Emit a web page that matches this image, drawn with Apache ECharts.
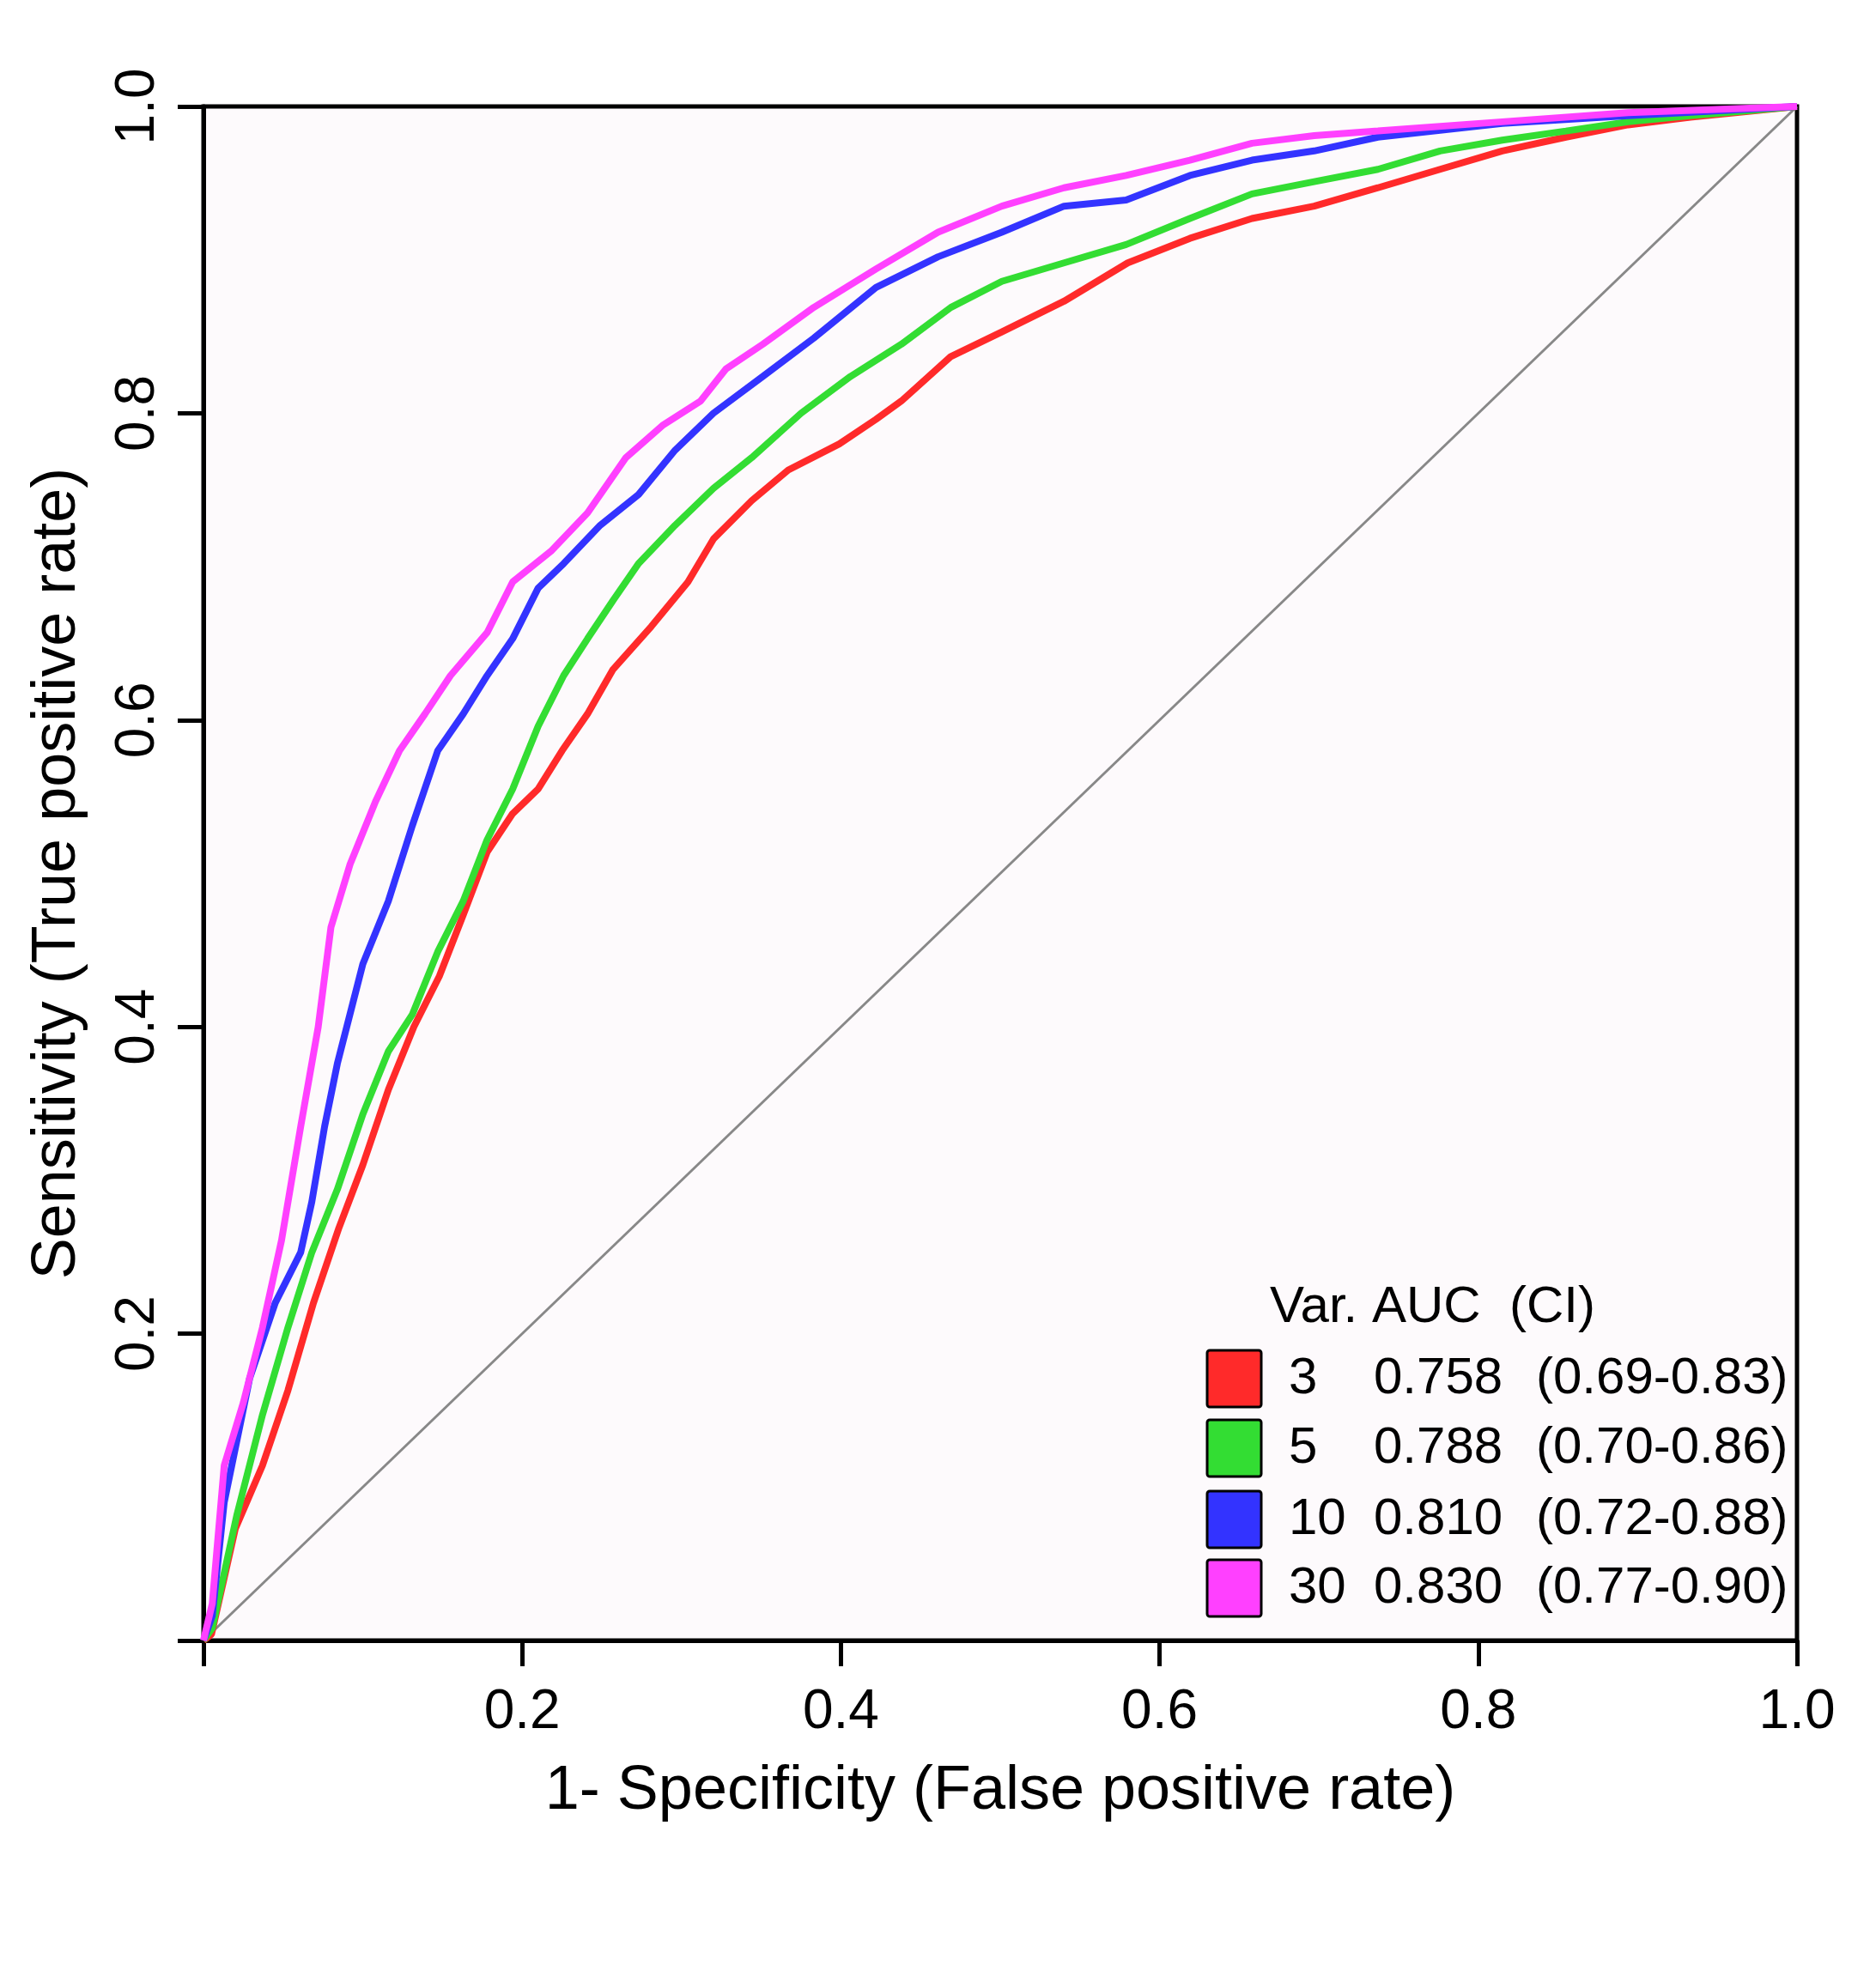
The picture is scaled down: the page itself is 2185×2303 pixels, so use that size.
<!DOCTYPE html>
<html>
<head>
<meta charset="utf-8">
<script src="https://cdn.jsdelivr.net/npm/echarts@6/dist/echarts.min.js"></script>
<style>
  html, body { margin: 0; padding: 0; background: #fff; }
  #chart { width: 2185px; height: 2303px; }
</style>
</head>
<body>
<div id="chart"></div>
<script>
'use strict';

// ROC curves: [1 - specificity, sensitivity]
const roc3 = [[0, 0], [0.005, 0.004], [0.02, 0.073], [0.037, 0.114], [0.053, 0.163], [0.069, 0.22], [0.085, 0.269], [0.1, 0.31], [0.116, 0.359], [0.132, 0.4], [0.148, 0.433], [0.163, 0.473], [0.178, 0.514], [0.194, 0.539], [0.21, 0.555], [0.225, 0.58], [0.241, 0.604], [0.257, 0.633], [0.281, 0.661], [0.304, 0.69], [0.32, 0.718], [0.344, 0.743], [0.367, 0.763], [0.399, 0.78], [0.422, 0.796], [0.438, 0.808], [0.469, 0.837], [0.501, 0.853], [0.54, 0.873], [0.58, 0.898], [0.619, 0.914], [0.658, 0.927], [0.697, 0.935], [0.737, 0.947], [0.776, 0.959], [0.815, 0.971], [0.855, 0.98], [0.894, 0.988], [0.933, 0.993], [0.972, 0.997], [1, 1]];
const roc5 = [[0, 0], [0.0055, 0.008], [0.021, 0.082], [0.037, 0.147], [0.053, 0.204], [0.068, 0.253], [0.084, 0.294], [0.1, 0.343], [0.116, 0.384], [0.131, 0.408], [0.147, 0.449], [0.163, 0.482], [0.178, 0.522], [0.194, 0.555], [0.21, 0.596], [0.226, 0.629], [0.241, 0.653], [0.257, 0.678], [0.273, 0.702], [0.296, 0.727], [0.32, 0.751], [0.344, 0.771], [0.375, 0.8], [0.406, 0.824], [0.438, 0.845], [0.469, 0.869], [0.501, 0.886], [0.54, 0.898], [0.579, 0.91], [0.619, 0.927], [0.658, 0.943], [0.697, 0.951], [0.737, 0.959], [0.776, 0.971], [0.815, 0.978], [0.855, 0.984], [0.894, 0.99], [0.933, 0.994], [1, 1]];
const roc10 = [[0, 0], [0.0055, 0.016], [0.013, 0.09], [0.029, 0.171], [0.045, 0.22], [0.061, 0.253], [0.068, 0.286], [0.076, 0.335], [0.084, 0.376], [0.1, 0.441], [0.116, 0.482], [0.131, 0.531], [0.147, 0.58], [0.163, 0.604], [0.178, 0.629], [0.194, 0.653], [0.21, 0.686], [0.226, 0.702], [0.249, 0.727], [0.273, 0.747], [0.296, 0.776], [0.32, 0.8], [0.351, 0.824], [0.383, 0.849], [0.422, 0.882], [0.461, 0.902], [0.501, 0.918], [0.54, 0.935], [0.579, 0.939], [0.619, 0.955], [0.658, 0.965], [0.697, 0.971], [0.737, 0.98], [0.815, 0.989], [0.894, 0.994], [1, 1]];
const roc30 = [[0, 0], [0.0055, 0.024], [0.013, 0.114], [0.025, 0.155], [0.037, 0.204], [0.049, 0.261], [0.061, 0.335], [0.072, 0.4], [0.08, 0.465], [0.092, 0.506], [0.108, 0.547], [0.123, 0.58], [0.139, 0.604], [0.155, 0.629], [0.178, 0.657], [0.194, 0.69], [0.218, 0.71], [0.241, 0.735], [0.265, 0.771], [0.288, 0.792], [0.312, 0.808], [0.328, 0.829], [0.351, 0.845], [0.383, 0.869], [0.422, 0.894], [0.461, 0.918], [0.501, 0.935], [0.54, 0.947], [0.579, 0.955], [0.619, 0.965], [0.658, 0.976], [0.697, 0.981], [0.737, 0.984], [0.815, 0.99], [0.894, 0.996], [1, 1]];
const diagonal = [[0, 0], [1, 1]];

const curveNames = ['3', '5', '10', '30'];
const curveColors = ['#ff2a2a', '#33dd33', '#3333ff', '#ff40ff'];
const aucValues = ['0.758', '0.788', '0.810', '0.830'];
const ciValues = ['(0.69-0.83)', '(0.70-0.86)', '(0.72-0.88)', '(0.77-0.90)'];
const tickValues = [0.2, 0.4, 0.6, 0.8, 1.0];

const FONT = '"Liberation Sans", Arial, sans-serif';
const chart = echarts.init(document.getElementById('chart'));

const curves = [roc3, roc5, roc10, roc30];

const series = [{
  type: 'line',
  data: diagonal,
  symbol: 'none',
  lineStyle: { color: '#888', width: 3 },
  silent: true,
}].concat(curves.map((c, i) => ({
  type: 'line',
  name: curveNames[i],
  data: c,
  symbol: 'none',
  lineStyle: { color: curveColors[i], width: 8 },
})));

// legend drawn as a small table
const legend = [{
  type: 'text', x: 1479, y: 1523,
  style: { text: 'Var. AUC  (CI)', font: '60px ' + FONT, fill: '#000', verticalAlign: 'middle' },
}];
const rowY = [1606, 1687, 1770, 1850];
curveNames.forEach((n, i) => {
  legend.push({
    type: 'rect', shape: { x: 1406, y: rowY[i] - 33, width: 63, height: 66, r: 3 },
    style: { fill: curveColors[i], stroke: '#000', lineWidth: 3 },
  });
  legend.push({ type: 'text', x: 1501, y: rowY[i], style: { text: n, font: '60px ' + FONT, fill: '#000', verticalAlign: 'middle' } });
  legend.push({ type: 'text', x: 1600, y: rowY[i], style: { text: aucValues[i], font: '60px ' + FONT, fill: '#000', verticalAlign: 'middle' } });
  legend.push({ type: 'text', x: 1789, y: rowY[i], style: { text: ciValues[i], font: '60px ' + FONT, fill: '#000', verticalAlign: 'middle' } });
});

const labelFmt = v => tickValues.some(t => Math.abs(t - v) < 1e-6) ? v.toFixed(1) : '';

chart.setOption({
  backgroundColor: '#fff',
  animation: false,
  grid: {
    left: 237, right: 92, top: 124, bottom: 392,
    show: true, backgroundColor: '#fdfafc', borderColor: '#000', borderWidth: 5,
  },
  xAxis: {
    type: 'value', min: 0, max: 1, interval: 0.2,
    name: '1- Specificity (False positive rate)', nameLocation: 'middle', nameGap: 140,
    nameTextStyle: { fontFamily: FONT, fontSize: 72, color: '#000' },
    axisLine: { lineStyle: { color: '#000', width: 5 } },
    axisTick: { length: 30, lineStyle: { color: '#000', width: 5 } },
    axisLabel: { fontFamily: FONT, fontSize: 64, color: '#000', margin: 52, formatter: labelFmt },
    splitLine: { show: false },
  },
  yAxis: {
    type: 'value', min: 0, max: 1, interval: 0.2,
    name: 'Sensitivity (True positive rate)', nameLocation: 'middle', nameGap: 134,
    nameTextStyle: { fontFamily: FONT, fontSize: 72, color: '#000' },
    axisLine: { lineStyle: { color: '#000', width: 5 } },
    axisTick: { length: 30, lineStyle: { color: '#000', width: 5 } },
    axisLabel: { fontFamily: FONT, fontSize: 64, color: '#000', margin: 44, rotate: 90, formatter: labelFmt },
    splitLine: { show: false },
  },
  series,
  graphic: legend,
});
</script>
</body>
</html>
